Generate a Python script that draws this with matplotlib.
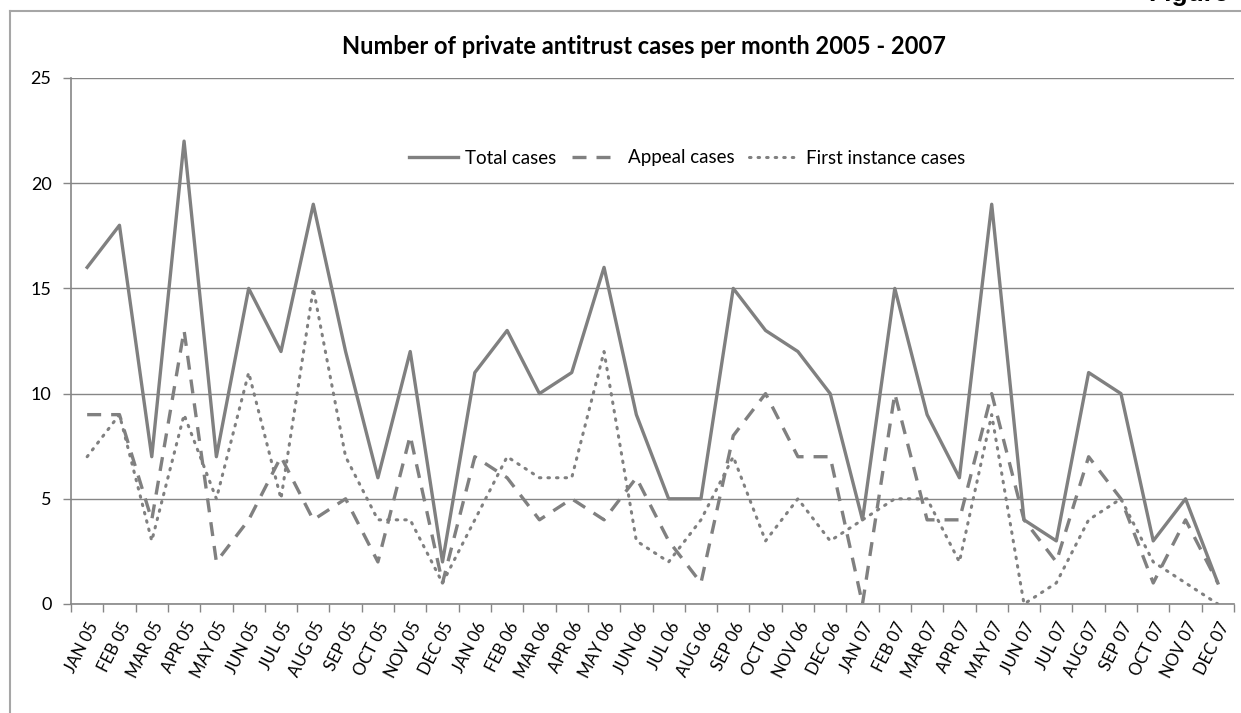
import matplotlib.pyplot as plt
from matplotlib.lines import Line2D

months = ["JAN 05", "FEB 05", "MAR 05", "APR 05", "MAY 05", "JUN 05", "JUL 05", "AUG 05",
          "SEP 05", "OCT 05", "NOV 05", "DEC 05", "JAN 06", "FEB 06", "MAR 06", "APR 06",
          "MAY 06", "JUN 06", "JUL 06", "AUG 06", "SEP 06", "OCT 06", "NOV 06", "DEC 06",
          "JAN 07", "FEB 07", "MAR 07", "APR 07", "MAY 07", "JUN 07", "JUL 07", "AUG 07",
          "SEP 07", "OCT 07", "NOV 07", "DEC 07"]

total = [16, 18, 7, 22, 7, 15, 12, 19, 12, 6, 12, 2,
         11, 13, 10, 11, 16, 9, 5, 5, 15, 13, 12, 10,
         4, 15, 9, 6, 19, 4, 3, 11, 10, 3, 5, 1]
appeal = [9, 9, 4, 13, 2, 4, 7, 4, 5, 2, 8, 1,
          7, 6, 4, 5, 4, 6, 3, 1, 8, 10, 7, 7,
          0, 10, 4, 4, 10, 4, 2, 7, 5, 1, 4, 1]
first = [7, 9, 3, 9, 5, 11, 5, 15, 7, 4, 4, 1,
         4, 7, 6, 6, 12, 3, 2, 4, 7, 3, 5, 3,
         4, 5, 5, 2, 9, 0, 1, 4, 5, 2, 1, 0]

plt.rcParams['font.family'] = ['Lato', 'DejaVu Sans']

W, H = 1241, 713
fig = plt.figure(figsize=(W / 100, H / 100), dpi=100)

# outer chart frame (left + top visible)
fig.add_artist(Line2D([10 / W, 10 / W], [0, 1 - 10.5 / H], color='#a6a6a6', lw=1.5))
fig.add_artist(Line2D([10 / W, 1], [1 - 10.5 / H, 1 - 10.5 / H], color='#a6a6a6', lw=1.5))
fig.text(1229 / W, 1 - 6 / H, "Figure", ha='right', va='bottom', fontsize=19,
         fontweight='bold', family=['Liberation Sans', 'DejaVu Sans'])

ax = fig.add_axes([71 / W, 1 - 604 / H, (1234 - 71) / W, (604 - 78) / H])

col = '#808080'
x = list(range(len(months)))
ax.plot(x, total, color=col, lw=2.4, ls='-', label='Total cases')
ax.plot(x, appeal, color=col, lw=2.4, ls=(0, (4.2, 3)), label='Appeal cases')
ax.plot(x, first, color=col, lw=2.2, ls=(0, (0.5, 2.3)), dash_capstyle='round',
        label='First instance cases')

ax.set_xlim(-0.5, len(months) - 0.5)
ax.set_ylim(0, 25)
ax.set_yticks([0, 5, 10, 15, 20, 25])
ax.yaxis.grid(True, color='#868686', lw=1)
ax.set_axisbelow(True)

ax.set_xticks([i - 0.5 for i in range(len(months) + 1)], minor=False)
ax.set_xticklabels([])
ax.set_xticks(x, minor=True)
ax.set_xticklabels(months, minor=True, rotation=63, ha='right', va='top',
                   rotation_mode='anchor', fontsize=12)
ax.tick_params(axis='x', which='minor', length=0, pad=11)
ax.tick_params(axis='x', which='major', length=6, color='#868686', width=1)
ax.tick_params(axis='y', length=6, color='#868686', width=1, labelsize=13, pad=8)

for s in ['top', 'right']:
    ax.spines[s].set_visible(False)
for s in ['left', 'bottom']:
    ax.spines[s].set_color('#868686')
    ax.spines[s].set_linewidth(1.2)

fig.text(644 / W, 1 - 47 / H, "Number of private antitrust cases per month 2005 - 2007",
         ha='center', va='center', fontsize=17, fontweight='bold')

ax.legend(loc='center', bbox_to_anchor=(687 / W, 1 - 158 / H), bbox_transform=fig.transFigure,
          ncol=3, frameon=False, fontsize=13.5, handlelength=2.6, columnspacing=0.8,
          handletextpad=0.4)

fig.savefig('out.png', dpi=100)
